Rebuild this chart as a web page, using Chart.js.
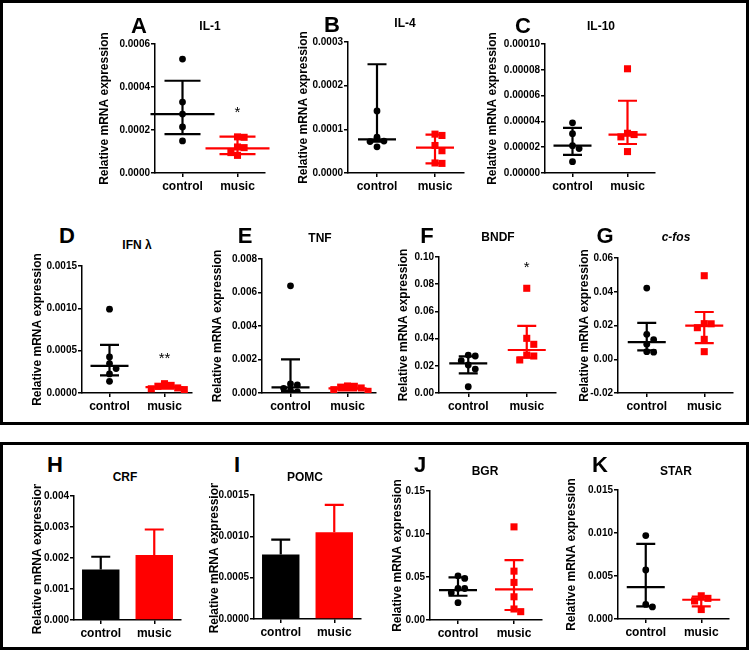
<!DOCTYPE html>
<html>
<head>
<meta charset="utf-8">
<script src="https://cdn.jsdelivr.net/npm/chart.js@4"></script>
<style>
  body { margin: 0; width: 750px; height: 650px; position: relative; background: #fff; overflow: hidden;
         font-family: "Liberation Sans", Arial, sans-serif; }
  .box { position: absolute; border: 3px solid #000; box-sizing: border-box; }
  .pane { position: absolute; }
  .lbl { position: absolute; font-weight: bold; color: #000; white-space: nowrap; line-height: 1;
         transform: translate(-50%, -50%); }
</style>
</head>
<body>
<div class="box" style="left:0;top:0;width:749px;height:425px"></div>
<div class="box" style="left:0;top:442px;width:749px;height:208px"></div>
<script>
const groups = ['control', 'music'];

// A  IL-1
const il1Ctrl = [0.00053, 0.00033, 0.000274, 0.000214, 0.000149];
const il1Music = [0.000168, 0.000166, 0.000121, 0.000118, 0.000095, 0.000082];
const il1Mid = [0.000274, 0.000115];
const il1Lo = [0.000181, 0.000088];
const il1Hi = [0.000429, 0.000169];
const il1Ticks = [0, 0.0002, 0.0004, 0.0006];

// B  IL-4
const il4Ctrl = [0.000142, 0.000082, 0.000073, 0.000072, 0.00006];
const il4Music = [0.000089, 0.000086, 0.000063, 0.000051, 0.000023, 0.000022];
const il4Mid = [0.000077, 0.000058];
const il4Lo = [0.000072, 0.000022];
const il4Hi = [0.000249, 0.000088];
const il4Ticks = [0, 0.0001, 0.0002, 0.0003];

// C  IL-10
const il10Ctrl = [0.0000389, 0.0000305, 0.0000212, 0.0000189, 0.0000088];
const il10Music = [0.0000808, 0.0000308, 0.0000298, 0.000028, 0.0000166];
const il10Mid = [0.0000212, 0.0000298];
const il10Lo = [0.000014, 0.0000225];
const il10Hi = [0.000035, 0.000056];
const il10Ticks = [0, 0.00002, 0.00004, 0.00006, 0.00008, 0.0001];

// D  IFN lambda
const ifnCtrl = [0.00099, 0.000426, 0.000348, 0.000289, 0.000225, 0.000138];
const ifnMusic = [0.00011, 0.00009, 0.00008, 0.00006, 0.00005, 0.00004];
const ifnMid = [0.00032, 0.00007];
const ifnLo = [0.000209, 0.00005];
const ifnHi = [0.000568, 0.00009];
const ifnTicks = [0, 0.0005, 0.001, 0.0015];

// E  TNF
const tnfCtrl = [0.0064, 0.00054, 0.00048, 0.00028, 0.00014, 0.00006];
const tnfMusic = [0.00042, 0.0004, 0.00035, 0.0003, 0.0002, 0.0001];
const tnfMid = [0.00034, 0.00028];
const tnfLo = [0.00012, 0.00016];
const tnfHi = [0.00201, 0.00038];
const tnfTicks = [0, 0.002, 0.004, 0.006, 0.008];

// F  BNDF
const bndfCtrl = [0.0279, 0.0272, 0.0238, 0.0206, 0.0176, 0.0046];
const bndfMusic = [0.077, 0.0402, 0.0358, 0.0279, 0.0272, 0.0243];
const bndfMid = [0.0218, 0.0316];
const bndfLo = [0.0145, 0.026];
const bndfHi = [0.027, 0.0493];
const bndfTicks = [0, 0.02, 0.04, 0.06, 0.08, 0.1];

// G  c-fos
const cfosCtrl = [0.0422, 0.0148, 0.0116, 0.0089, 0.0045, 0.0042];
const cfosMusic = [0.0495, 0.0211, 0.021, 0.0187, 0.0118, 0.0045];
const cfosMid = [0.0102, 0.0199];
const cfosLo = [0.0053, 0.0096];
const cfosHi = [0.0215, 0.028];
const cfosTicks = [-0.02, 0, 0.02, 0.04, 0.06];

// H  CRF (mean + error)
const crfMean = [0.00163, 0.0021];
const crfErr = [0.00041, 0.00082];
const crfTicks = [0, 0.001, 0.002, 0.003, 0.004];

// I  POMC
const pomcMean = [0.00078, 0.00105];
const pomcErr = [0.00018, 0.00033];
const pomcTicks = [0, 0.0005, 0.001, 0.0015];

// J  BGR
const bgrCtrl = [0.0514, 0.0483, 0.0368, 0.0366, 0.0317, 0.0201];
const bgrMusic = [0.1083, 0.0568, 0.0437, 0.027, 0.0128, 0.0097];
const bgrMid = [0.0348, 0.0356];
const bgrLo = [0.0282, 0.0116];
const bgrHi = [0.0495, 0.0696];
const bgrTicks = [0, 0.05, 0.1, 0.15];

// K  STAR
const starCtrl = [0.0097, 0.0057, 0.0017, 0.0014];
const starMusic = [0.0027, 0.0024, 0.0021, 0.0011];
const starMid = [0.00371, 0.00224];
const starLo = [0.00146, 0.00146];
const starHi = [0.00873, 0.0026];
const starTicks = [0, 0.005, 0.01, 0.015];

const FONT = '"Liberation Sans", Arial, sans-serif';
const black = '#000';
const red = '#ff0000';
const tickFont = {family: FONT, size: 10, weight: 'bold'};
const catFont = {family: FONT, size: 12, weight: 'bold'};

// spread overlapping points sideways (simple beeswarm in value units)
function swarm(vals, xc, span) {
    const thr = span * 0.05, step = 0.12;
    const placed = [];
    return vals.map(v => {
        for (const k of [0, 1, -1, 2, -2, 3, -3]) {
            const dx = k * step;
            const hit = placed.some(p => Math.abs(p.v - v) < thr && Math.abs(p.dx - dx) < step * 0.9);
            if (!hit) {
                placed.push({v, dx});
                return {x: xc + dx, y: v};
            }
        }
        return {x: xc, y: v};
    });
}

function yAxis(ticks, dec, yw) {
    return {
        min: ticks[0], max: ticks[ticks.length - 1],
        afterBuildTicks: s => { s.ticks = ticks.map(v => ({value: v})); },
        ticks: {callback: v => v.toFixed(dec), font: tickFont, color: black, padding: 1, autoSkip: false},
        grid: {drawOnChartArea: false, tickLength: 4, color: black, lineWidth: 1.5},
        border: {color: black, width: 1.5},
        title: {display: true, text: 'Relative mRNA expression', font: catFont, color: black, padding: 0},
        afterFit: s => { s.width = yw; }
    };
}

function xAxisCommon(xh) {
    return {
        ticks: {font: catFont, color: black, padding: 2, autoSkip: false, maxRotation: 0},
        grid: {drawOnChartArea: false, tickLength: 4, color: black, lineWidth: 1.5, offset: false},
        border: {color: black, width: 1.5},
        afterFit: s => { s.height = xh; }
    };
}

function summaryPlugin(mid, lo, hi, medW, capW, sig) {
    return {
        id: 'summary',
        afterDatasetsDraw(chart) {
            const {ctx, scales: {x, y}} = chart;
            ctx.save();
            ctx.lineWidth = 2.2;
            [0, 1].forEach(i => {
                const cx = x.getPixelForValue(i + 1);
                const yl = y.getPixelForValue(lo[i]);
                const yh = y.getPixelForValue(hi[i]);
                const ym = y.getPixelForValue(mid[i]);
                ctx.strokeStyle = i ? red : black;
                ctx.beginPath();
                ctx.moveTo(cx, yl); ctx.lineTo(cx, yh);
                ctx.moveTo(cx - capW / 2, yl); ctx.lineTo(cx + capW / 2, yl);
                ctx.moveTo(cx - capW / 2, yh); ctx.lineTo(cx + capW / 2, yh);
                ctx.moveTo(cx - medW / 2, ym); ctx.lineTo(cx + medW / 2, ym);
                ctx.stroke();
            });
            if (sig) {
                ctx.fillStyle = black;
                ctx.font = '15px ' + FONT;
                ctx.textAlign = 'center';
                ctx.textBaseline = 'middle';
                ctx.fillText(sig[0], x.getPixelForValue(2), y.getPixelForValue(sig[1]));
            }
            ctx.restore();
        }
    };
}

function errPlugin(mean, err, capW) {
    return {
        id: 'errbars',
        afterDatasetsDraw(chart) {
            const {ctx, scales: {x, y}} = chart;
            ctx.save();
            ctx.lineWidth = 2.2;
            [0, 1].forEach(i => {
                const cx = x.getPixelForValue(i);
                const y0 = y.getPixelForValue(mean[i]);
                const y1 = y.getPixelForValue(mean[i] + err[i]);
                ctx.strokeStyle = i ? red : black;
                ctx.beginPath();
                ctx.moveTo(cx, y0); ctx.lineTo(cx, y1);
                ctx.moveTo(cx - capW / 2, y1); ctx.lineTo(cx + capW / 2, y1);
                ctx.stroke();
            });
            ctx.restore();
        }
    };
}

const PAD_TOP = 12, PAD_R = 10, XH = 28;

function pane(box) {
    const left = Math.round(box.tx - 7.2);
    const yw = box.L - left;
    const top = box.T - PAD_TOP;
    const w = yw + box.W + PAD_R;
    const h = PAD_TOP + (box.B - box.T) + XH;
    const div = document.createElement('div');
    div.className = 'pane';
    div.style.left = left + 'px';
    div.style.top = top + 'px';
    const cv = document.createElement('canvas');
    cv.width = w; cv.height = h;
    div.appendChild(cv);
    document.body.appendChild(div);
    return {ctx: cv.getContext('2d'), yw};
}

function baseOptions() {
    return {
        responsive: false,
        animation: false,
        layout: {padding: {top: PAD_TOP, right: PAD_R, left: 0, bottom: 0}},
        plugins: {legend: {display: false}, tooltip: {enabled: false}}
    };
}

function scatterPanel(box, ctrl, music, mid, lo, hi, ticks, dec, sig) {
    const {ctx, yw} = pane(box);
    const span = ticks[ticks.length - 1] - ticks[0];
    const opts = baseOptions();
    opts.scales = {
        x: Object.assign(xAxisCommon(XH), {
            type: 'linear', min: 0.5, max: 2.5,
            afterBuildTicks: s => { s.ticks = [{value: 1}, {value: 2}]; }
        }),
        y: yAxis(ticks, dec, yw)
    };
    opts.scales.x.ticks.callback = v => groups[v - 1];
    new Chart(ctx, {
        type: 'scatter',
        data: {
            datasets: [
                {data: swarm(ctrl, 1, span), pointStyle: 'circle', pointRadius: 3.4, backgroundColor: black, borderWidth: 0},
                {data: swarm(music, 2, span), pointStyle: 'rect', pointRadius: 5, backgroundColor: red, borderWidth: 0}
            ]
        },
        options: opts,
        plugins: [summaryPlugin(mid, lo, hi, box.medW || 38, box.capW || 19, sig)]
    });
}

function barPanel(box, mean, err, ticks, dec) {
    const {ctx, yw} = pane(box);
    const opts = baseOptions();
    opts.scales = {
        x: Object.assign(xAxisCommon(XH), {type: 'category', offset: true}),
        y: yAxis(ticks, dec, yw)
    };
    new Chart(ctx, {
        type: 'bar',
        data: {
            labels: groups,
            datasets: [{data: mean, backgroundColor: [black, red], borderWidth: 0, barPercentage: 0.7, categoryPercentage: 1}]
        },
        options: opts,
        plugins: [errPlugin(mean, err, 19)]
    });
}

// plot boxes: axis x (L), top tick y (T), bottom y (B), axis width (W), y-title centre (tx)
scatterPanel({L: 155, T: 44, B: 173, W: 110, tx: 104.5, medW: 64, capW: 36},
    il1Ctrl, il1Music, il1Mid, il1Lo, il1Hi, il1Ticks, 4, ['*', 0.00028]);
scatterPanel({L: 348, T: 42, B: 173, W: 116, tx: 303},
    il4Ctrl, il4Music, il4Mid, il4Lo, il4Hi, il4Ticks, 4);
scatterPanel({L: 545, T: 44, B: 173, W: 110, tx: 492.5},
    il10Ctrl, il10Music, il10Mid, il10Lo, il10Hi, il10Ticks, 5);
scatterPanel({L: 82, T: 266, B: 393, W: 110, tx: 37},
    ifnCtrl, ifnMusic, ifnMid, ifnLo, ifnHi, ifnTicks, 4, ['**', 0.0004]);
scatterPanel({L: 262, T: 259, B: 393, W: 114, tx: 217.5},
    tnfCtrl, tnfMusic, tnfMid, tnfLo, tnfHi, tnfTicks, 3);
scatterPanel({L: 439, T: 257, B: 393, W: 117, tx: 403},
    bndfCtrl, bndfMusic, bndfMid, bndfLo, bndfHi, bndfTicks, 2, ['*', 0.092]);
scatterPanel({L: 618, T: 258, B: 393, W: 115, tx: 584},
    cfosCtrl, cfosMusic, cfosMid, cfosLo, cfosHi, cfosTicks, 2);
barPanel({L: 74, T: 496, B: 620, W: 107, tx: 37.5}, crfMean, crfErr, crfTicks, 3);
barPanel({L: 254, T: 495, B: 619, W: 107, tx: 214}, pomcMean, pomcErr, pomcTicks, 4);
scatterPanel({L: 430, T: 491, B: 620, W: 112, tx: 397.5},
    bgrCtrl, bgrMusic, bgrMid, bgrLo, bgrHi, bgrTicks, 2);
scatterPanel({L: 618, T: 490, B: 619, W: 111, tx: 571},
    starCtrl, starMusic, starMid, starLo, starHi, starTicks, 3);

// panel letters and gene names
const texts = [
    ['A', 139, 26, 22], ['IL-1', 210, 26, 12],
    ['B', 332, 25, 22], ['IL-4', 405, 23, 12],
    ['C', 523, 26, 22], ['IL-10', 601, 26, 12],
    ['D', 67, 236, 22], ['IFN λ', 137, 245, 12],
    ['E', 245, 236, 22], ['TNF', 320, 238, 12],
    ['F', 427, 236, 22], ['BNDF', 498, 237, 12],
    ['G', 605, 236, 22], ['c-fos', 676, 237, 12, true],
    ['H', 55, 465, 22], ['CRF', 125, 477, 12],
    ['I', 237, 465, 22], ['POMC', 305, 477, 12],
    ['J', 420, 465, 22], ['BGR', 485, 471, 12],
    ['K', 600, 465, 22], ['STAR', 676, 471, 12]
];
texts.forEach(([t, x, y, size, italic]) => {
    const d = document.createElement('div');
    d.className = 'lbl';
    d.textContent = t;
    d.style.left = x + 'px';
    d.style.top = y + 'px';
    d.style.fontSize = size + 'px';
    if (italic) d.style.fontStyle = 'italic';
    document.body.appendChild(d);
});
</script>
</body>
</html>
